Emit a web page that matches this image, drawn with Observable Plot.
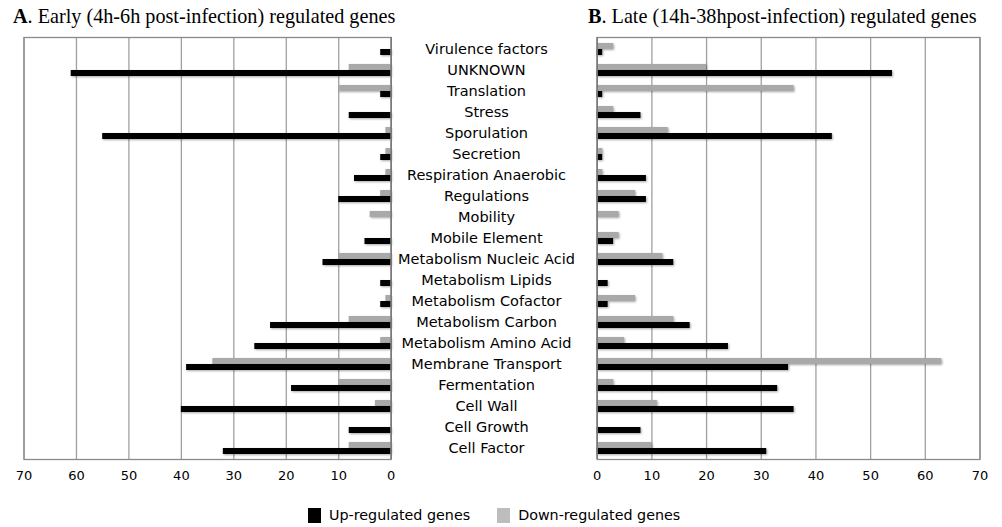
<!DOCTYPE html>
<html>
<head>
<meta charset="utf-8">
<script src="https://cdn.jsdelivr.net/npm/d3@7"></script>
<script src="https://cdn.jsdelivr.net/npm/@observablehq/plot@0.6"></script>
<style>
  html, body { margin: 0; padding: 0; background: #fff; }
  #root { position: relative; width: 1002px; height: 527px; overflow: hidden; background: #fff; }
  .title { position: absolute; font-family: "Liberation Serif", "Times New Roman", serif; font-size: 20.2px; color: #000; white-space: nowrap; line-height: 22px; }
  .panel { position: absolute; top: 30px; }
  .panel svg { overflow: visible; background: transparent; }
  #legend { position: absolute; top: 507px; left: 308px; font-family: Verdana, "DejaVu Sans", sans-serif; font-size: 14.3px; color: #000; display: flex; align-items: center; white-space: nowrap; line-height: 17px; }
  .sw { display: inline-block; width: 13px; height: 15px; margin-right: 8px; }
</style>
</head>
<body>
<div id="root">
  <div class="title" style="left:13px; top:5px;"><b>A</b>. Early (4h-6h post-infection) regulated genes</div>
  <div class="title" style="left:588px; top:5px;"><b>B</b>. Late (14h-38hpost-infection) regulated genes</div>
  <div id="left" class="panel" style="left:0px;"></div>
  <div id="right" class="panel" style="left:580px;"></div>
  <div id="legend"></div>
</div>
<script>
const categories = ["Virulence factors","UNKNOWN","Translation","Stress","Sporulation","Secretion","Respiration Anaerobic","Regulations","Mobility","Mobile Element","Metabolism Nucleic Acid","Metabolism Lipids","Metabolism Cofactor","Metabolism Carbon","Metabolism Amino Acid","Membrane Transport","Fermentation","Cell Wall","Cell Growth","Cell Factor"];
const earlyUp   = [2,61,2,8,55,2,7,10,0,5,13,2,2,23,26,39,19,40,8,32];
const earlyDown = [0,8,10,0,1,1,1,2,4,0,10,0,1,8,2,34,10,3,0,8];
const lateUp    = [1,54,1,8,43,1,9,9,0,3,14,2,2,17,24,35,33,36,8,31];
const lateDown  = [3,20,36,3,13,1,1,7,4,4,12,0,7,14,5,63,3,11,0,10];
const xTicks = [0,10,20,30,40,50,60,70];
const seriesNames = ["Up-regulated genes","Down-regulated genes"];
const seriesColors = ["#000000","#a9a9a9"];

const rows = (vals) => categories.map((c,i) => ({category: c, value: vals[i]}));

function panel({up, down, reverse, width, marginLeft, marginRight, labels}) {
  const marks = [
    Plot.gridX(xTicks, {stroke: "#a0a0a0", strokeOpacity: 1, strokeWidth: 1.3}),
    Plot.barX(rows(down), {x: "value", y: "category", fill: seriesColors[1], insetTop: 5, insetBottom: 10}),
    Plot.barX(rows(up), {x: "value", y: "category", fill: seriesColors[0], insetTop: 11, insetBottom: 4}),
    Plot.frame({stroke: "#8a8a8a", strokeWidth: 1.3}),
    Plot.ruleX([0], {stroke: "#777", strokeWidth: 1.3}),
    Plot.axisX(xTicks, {tickSize: 0, tickPadding: 11, fontSize: 13, fontFamily: "Verdana, DejaVu Sans, sans-serif", fill: "#000"})
  ];
  if (labels) {
    marks.push(Plot.text(categories, {y: d => d, frameAnchor: "right", dx: 95.3, textAnchor: "middle", fontSize: 14.5, fontFamily: "Verdana, DejaVu Sans, sans-serif", fill: "#000"}));
  }
  return Plot.plot({
    width, height: 459,
    marginTop: 7, marginBottom: 30, marginLeft, marginRight,
    style: {background: "transparent", overflow: "visible"},
    x: {domain: [0,70], reverse, label: null},
    y: {domain: categories, padding: 0, axis: null},
    marks
  });
}

document.getElementById("left").append(panel({up: earlyUp, down: earlyDown, reverse: true, width: 580, marginLeft: 23.5, marginRight: 189.3, labels: true}));
document.getElementById("right").append(panel({up: lateUp, down: lateDown, reverse: false, width: 422, marginLeft: 16.7, marginRight: 22.5, labels: false}));

document.querySelectorAll('g[aria-label="bar"]').forEach(g => g.style.filter = "drop-shadow(1px 1px 1px rgba(0,0,0,0.35))");

const legend = document.getElementById("legend");
seriesNames.forEach((name, i) => {
  const item = document.createElement("span");
  item.style.display = "inline-flex";
  item.style.alignItems = "center";
  item.style.marginRight = i === 0 ? "27px" : "0";
  const sw = document.createElement("span");
  sw.className = "sw";
  sw.style.background = i === 0 ? seriesColors[0] : "#bdbdbd";
  item.append(sw, document.createTextNode(name));
  legend.append(item);
});
</script>
</body>
</html>
